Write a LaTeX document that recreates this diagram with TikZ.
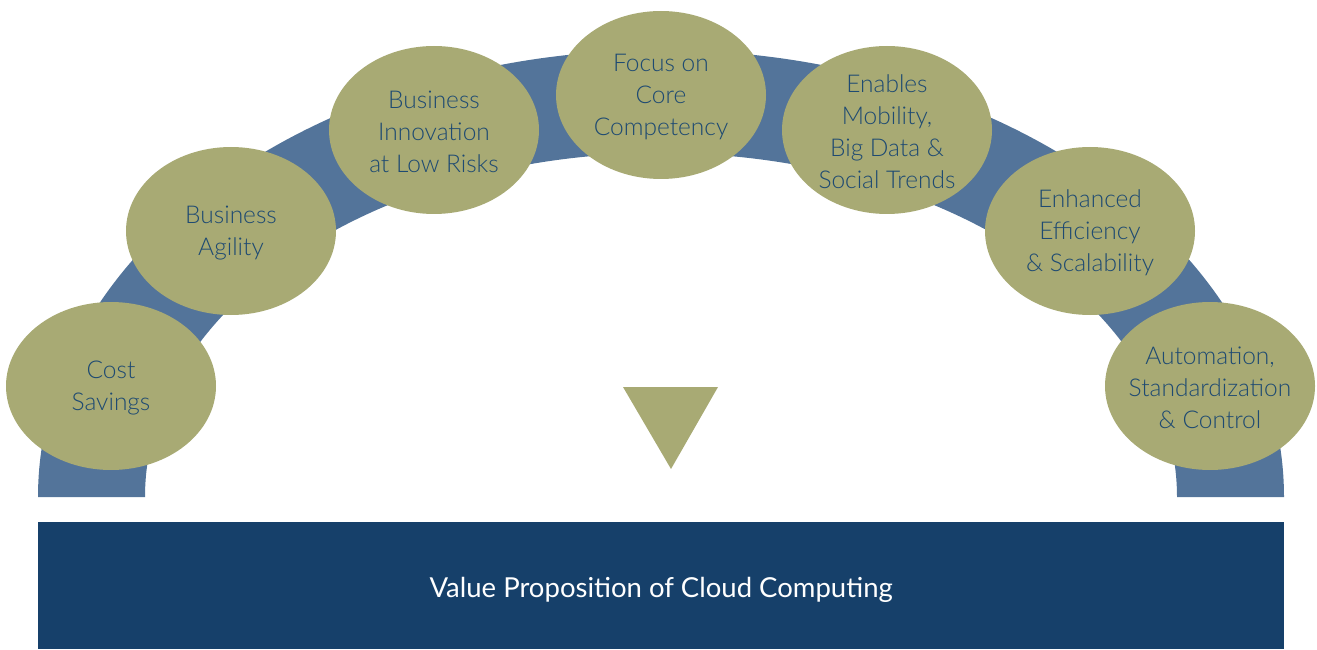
\documentclass[tikz,border=0pt]{standalone}
\usepackage{fontspec}
\setmainfont{Lato}
\newfontfamily\bubblefont{Lato Light}
\usetikzlibrary{shapes.geometric}
\definecolor{bandblue}{HTML}{53749A}
\definecolor{olive}{HTML}{A8AA74}
\definecolor{navy}{HTML}{16406A}
\definecolor{inkblue}{HTML}{1E4A72}
\tikzset{
  bubble/.style={ellipse, fill=olive, minimum width=210pt, minimum height=168pt, inner sep=0pt},
  bubbletext/.style={align=center, text=inkblue, font=\bubblefont\fontsize{24.5}{32}\selectfont},
}
\begin{document}
\begin{tikzpicture}[x=1pt,y=1pt]
  \useasboundingbox (0,0) rectangle (1317,649);
  % arched band behind the bubbles
  \fill[bandblue] (38,152) arc[start angle=180, end angle=0, x radius=623, y radius=447]
    -- (1177,152) arc[start angle=0, end angle=180, x radius=516, y radius=344] -- cycle;
  % bubbles
  \node[bubble] (b1) at (111,263) {};
  \node[bubble] (b2) at (231,418) {};
  \node[bubble] (b3) at (434,519) {};
  \node[bubble] (b4) at (661,554) {};
  \node[bubble] (b5) at (887,519) {};
  \node[bubble] (b6) at (1090,418) {};
  \node[bubble] (b7) at (1210,263) {};
  \node[bubbletext] (t1) at ([yshift=-2pt]b1.center) {Cost\\Savings};
  \node[bubbletext] (t2) at ([yshift=-2pt]b2.center) {Business\\Agility};
  \node[bubbletext] (t3) at ([yshift=-2pt]b3.center) {Business\\Innovation\\at Low Risks};
  \node[bubbletext] (t4) at ([yshift=-2pt]b4.center) {Focus on\\Core\\Competency};
  \node[bubbletext] (t5) at ([yshift=-2pt]b5.center) {Enables\\Mobility,\\Big Data \&\\Social Trends};
  \node[bubbletext] (t6) at ([yshift=-2pt]b6.center) {Enhanced\\Efficiency\\\& Scalability};
  \node[bubbletext] (t7) at ([yshift=-2pt]b7.center) {Automation,\\Standardization\\\& Control};
  % pointer
  \fill[olive] (623,262) -- (718,262) -- (671,180) -- cycle;
  % base bar
  \node[fill=navy, minimum width=1246pt, minimum height=127pt, inner sep=0pt, anchor=south west] (bar) at (38,0) {};
  \node[anchor=base, text=white, font=\fontsize{27.5}{32}\selectfont] (bartext) at (bar.center |- 0,52) {Value Proposition of Cloud Computing};
\end{tikzpicture}
\end{document}
